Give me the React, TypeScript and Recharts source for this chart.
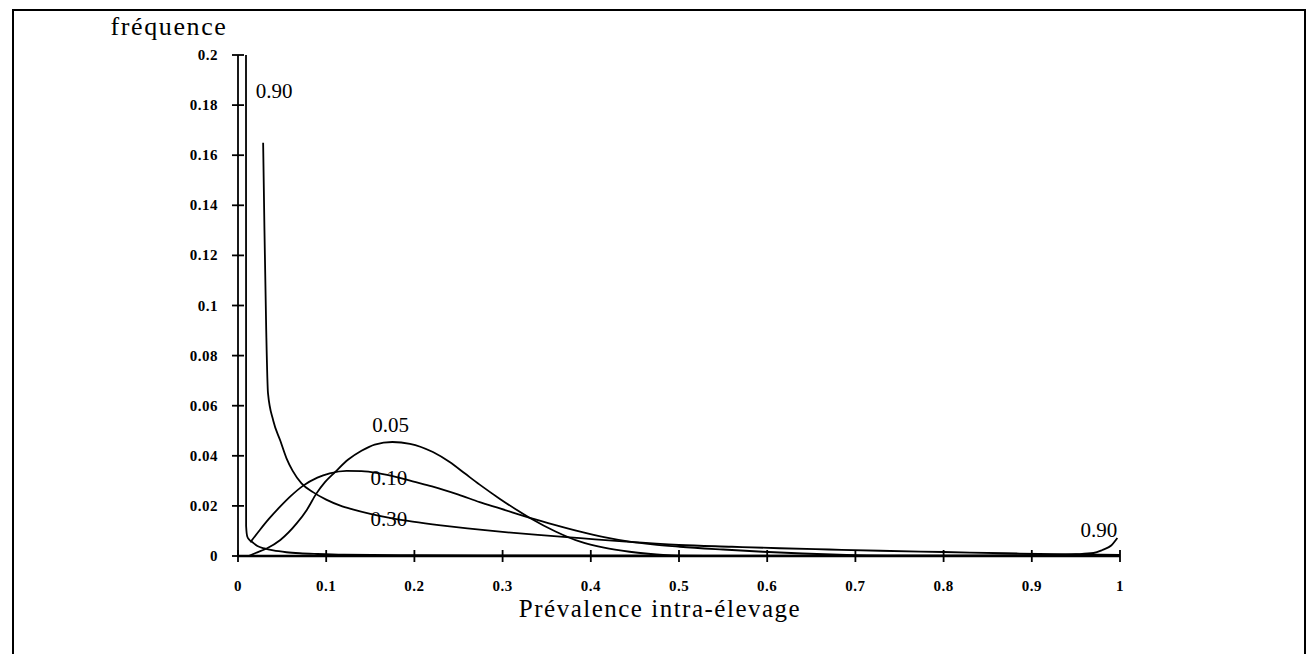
import { LineChart, Line, XAxis, YAxis, ReferenceDot } from 'recharts';

const xTicks = [0, 0.1, 0.2, 0.3, 0.4, 0.5, 0.6, 0.7, 0.8, 0.9, 1];
const xTickLabels = ['0', '0.1', '0.2', '0.3', '0.4', '0.5', '0.6', '0.7', '0.8', '0.9', '1'];
const yTicks = [0, 0.02, 0.04, 0.06, 0.08, 0.1, 0.12, 0.14, 0.16, 0.18, 0.2];
const yTickLabels = ['0', '0.02', '0.04', '0.06', '0.08', '0.1', '0.12', '0.14', '0.16', '0.18', '0.2'];

// prevalence 0.90
const x90 = [0.009, 0.0092, 0.0105, 0.013, 0.016, 0.022, 0.03, 0.04, 0.055, 0.07, 0.09, 0.12, 0.2, 0.3, 0.5, 0.7, 0.85, 0.92, 0.95, 0.97, 0.98, 0.99, 0.997];
const y90 = [0.3, 0.012, 0.0078, 0.0064, 0.0056, 0.004, 0.003, 0.0022, 0.0015, 0.0011, 0.0008, 0.0005, 0.0003, 0.0002, 0.0001, 0.0001, 0.0002, 0.0004, 0.0007, 0.0012, 0.0024, 0.0042, 0.0072];

// prevalence 0.30
const x30 = [0.0285, 0.03, 0.032, 0.034, 0.04, 0.048, 0.055, 0.062, 0.072, 0.085, 0.1, 0.116, 0.13, 0.15, 0.175, 0.198, 0.23, 0.26, 0.297, 0.34, 0.388, 0.44, 0.5, 0.56, 0.614, 0.67, 0.728, 0.8, 0.87, 0.93, 1.0];
const y30 = [0.165, 0.13, 0.09, 0.065, 0.054, 0.046, 0.039, 0.034, 0.029, 0.0255, 0.0225, 0.0201, 0.0186, 0.0168, 0.015, 0.0137, 0.0122, 0.011, 0.0097, 0.0084, 0.0071, 0.0057, 0.0044, 0.0037, 0.0031, 0.0026, 0.0021, 0.0016, 0.0011, 0.0007, 0.0004];

// prevalence 0.10
const x10 = [0.014, 0.025, 0.035, 0.048, 0.06, 0.074, 0.09, 0.104, 0.123, 0.14, 0.16, 0.18, 0.198, 0.22, 0.25, 0.274, 0.297, 0.331, 0.36, 0.388, 0.415, 0.444, 0.47, 0.501, 0.55, 0.595, 0.64, 0.69, 0.75, 0.8];
const y10 = [0.0055, 0.0105, 0.0148, 0.0198, 0.024, 0.0281, 0.0313, 0.033, 0.034, 0.0339, 0.033, 0.0315, 0.0298, 0.0278, 0.0245, 0.0215, 0.019, 0.0152, 0.0123, 0.0097, 0.0075, 0.0057, 0.0046, 0.0037, 0.0026, 0.0017, 0.001, 0.0004, 0.0001, 0];

// prevalence 0.05
const x05 = [0.012, 0.02, 0.0325, 0.048, 0.0665, 0.078, 0.089, 0.0986, 0.11, 0.125, 0.14, 0.155, 0.175, 0.195, 0.221, 0.24, 0.257, 0.274, 0.297, 0.331, 0.36, 0.388, 0.415, 0.444, 0.465, 0.482, 0.5, 0.53];
const y05 = [0, 0.0012, 0.003, 0.0064, 0.013, 0.0184, 0.025, 0.0295, 0.0335, 0.0385, 0.042, 0.0445, 0.0455, 0.0448, 0.0415, 0.0375, 0.033, 0.0285, 0.0228, 0.0152, 0.0098, 0.0057, 0.0033, 0.0017, 0.0009, 0.0004, 0.0001, 0];

const labels = [
  { text: '0.90', x: 0.041, y: 0.186 },
  { text: '0.05', x: 0.173, y: 0.0523 },
  { text: '0.10', x: 0.171, y: 0.0315 },
  { text: '0.30', x: 0.171, y: 0.0148 },
  { text: '0.90', x: 0.976, y: 0.0104 },
];

const toRows = (xs: number[], ys: number[]) => xs.map((x, i) => ({ x, y: ys[i] }));

const serif = '"Liberation Serif", "Times New Roman", serif';

function YTick(props: any) {
  const { x, y, payload } = props;
  const i = yTicks.indexOf(payload.value);
  return (
    <g>
      <line x1={x - 6} x2={x + 6} y1={y} y2={y} stroke="#000" strokeWidth={1.8} />
      <text x={x - 20} y={y} dy={5} textAnchor="end" fontFamily={serif} fontWeight="bold" fontSize={15} letterSpacing={0.5} fill="#000">
        {yTickLabels[i]}
      </text>
    </g>
  );
}

function XTick(props: any) {
  const { x, y, payload } = props;
  const i = xTicks.indexOf(payload.value);
  return (
    <g>
      <line x1={x} x2={x} y1={y - 6} y2={y + 6} stroke="#000" strokeWidth={1.8} />
      <text x={x} y={y + 35} textAnchor="middle" fontFamily={serif} fontWeight="bold" fontSize={15} letterSpacing={0.5} fill="#000">
        {xTickLabels[i]}
      </text>
    </g>
  );
}

export default function App() {
  const series = [
    toRows(x90, y90),
    toRows(x30, y30),
    toRows(x10, y10),
    toRows(x05, y05),
  ];
  return (
    <div style={{ position: 'absolute', left: 0, top: 0, width: 1313, height: 654, background: '#fff', overflow: 'hidden' }}>
      <div style={{ position: 'absolute', left: 12, top: 9, width: 1294, height: 700, border: '2px solid #000', boxSizing: 'border-box' }} />
      <LineChart width={1313} height={654} margin={{ top: 55, right: 193, bottom: 58, left: 188 }} style={{ position: 'absolute', left: 0, top: 0 }}>
        <XAxis
          type="number"
          dataKey="x"
          domain={[0, 1]}
          ticks={xTicks}
          allowDataOverflow
          height={40}
          tickSize={0}
          tickMargin={0}
          tickLine={false}
          axisLine={{ stroke: '#000', strokeWidth: 2.4 }}
          tick={<XTick />}
        />
        <YAxis
          type="number"
          dataKey="y"
          domain={[0, 0.2]}
          ticks={yTicks}
          allowDataOverflow
          width={50}
          tickSize={0}
          tickMargin={0}
          tickLine={false}
          axisLine={{ stroke: '#000', strokeWidth: 1.8 }}
          tick={<YTick />}
        />
        {series.map((rows, i) => (
          <Line
            key={i}
            data={rows}
            dataKey="y"
            type="monotone"
            stroke="#000"
            strokeWidth={1.8}
            dot={false}
            activeDot={false}
            isAnimationActive={false}
          />
        ))}
        {labels.map((l, i) => (
          <ReferenceDot
            key={i}
            x={l.x}
            y={l.y}
            r={0}
            fill="none"
            stroke="none"
            ifOverflow="visible"
            label={{ value: l.text, position: 'center', fill: '#000', fontSize: 21, fontFamily: serif }}
          />
        ))}
      </LineChart>
      <svg width={1313} height={654} style={{ position: 'absolute', left: 0, top: 0, pointerEvents: 'none' }}>
        <text x={169} y={35} textAnchor="middle" fontFamily={serif} fontSize={26} letterSpacing={1.6} fill="#000">fréquence</text>
        <text x={660} y={617} textAnchor="middle" fontFamily={serif} fontSize={25} letterSpacing={1.5} fill="#000">Prévalence intra-élevage</text>
      </svg>
    </div>
  );
}
